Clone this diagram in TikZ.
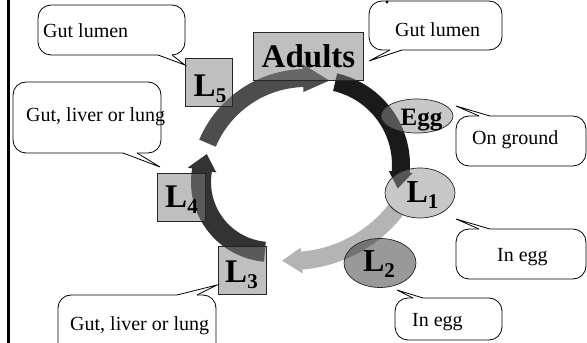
\documentclass[tikz,border=0pt]{standalone}
\usepackage{fontspec}
\setmainfont{Liberation Serif}
\usetikzlibrary{shapes.geometric}
\definecolor{boxfill}{gray}{0.5}
\definecolor{eggfill}{gray}{0.57}
\definecolor{ltwofill}{gray}{0.2}
\definecolor{arcA}{HTML}{4D4D4D}
\definecolor{arcB}{HTML}{1A1A1A}
\definecolor{arcC}{HTML}{B4B4B4}
\definecolor{arcD}{HTML}{333333}
% #1 cx, #2 cy, #3 r, #4 start angle, #5 head base angle, #6 tip angle, #7 half band, #8 half head, #9 colour
\newcommand{\blockarc}[9]{%
  \pgfmathsetmacro\bArO{#3+#7}\pgfmathsetmacro\bArI{#3-#7}%
  \pgfmathsetmacro\bAhO{#3+#8}\pgfmathsetmacro\bAhI{#3-#8}%
  \fill[#9,shift={(#1,#2)}] (#4:\bArO pt) arc[start angle=#4,end angle=#5,radius=\bArO pt]
    -- (#5:\bAhO pt) -- (#6:#3pt) -- (#5:\bAhI pt) -- (#5:\bArI pt)
    arc[start angle=#5,end angle=#4,radius=\bArI pt] -- cycle;}
% tail: #1 bx1, #2 bx2, #3 Ybase, #4 tip x, #5 tip Y, #6 inner Y
\newcommand{\calltail}[6]{%
  \fill[white] (#1,#6) -- (#1,#3) -- (#4,#5) -- (#2,#3) -- (#2,#6) -- cycle;
  \draw[line width=0.8pt] (#1,#3) -- (#4,#5) -- (#2,#3);}
\newcommand{\Lsub}[1]{L\raisebox{-6pt}{\fontsize{21}{21}\selectfont #1}}
\begin{document}
\begin{tikzpicture}[x=1pt,y=1pt,
  box/.style={rectangle,draw=black!85,line width=0.7pt,fill=boxfill,fill opacity=0.5,draw opacity=1,inner sep=0pt},
  oval/.style={ellipse,draw=black!85,line width=0.7pt,fill opacity=0.5,draw opacity=1,inner sep=0pt},
  lbl/.style={anchor=base,inner sep=0pt,font=\bfseries\fontsize{33}{33}\selectfont},
  bubble/.style={draw=black,line width=0.8pt,fill=white,rounded corners=13pt},
  btxt/.style={anchor=base west,inner sep=0pt,font=\fontsize{20}{20}\selectfont}]
\useasboundingbox (0,0) rectangle (587,343);
% left rule
\draw[line width=2.5pt] (8.5,0) -- (8.5,343);
% cycle arrows
\blockarc{306}{158}{107}{157}{91.6}{77.4}{9}{14}{arcA}
\blockarc{316}{178}{85}{77}{-4.7}{-16}{9}{12}{arcB}
\blockarc{291}{215}{133}{-38}{-85.4}{-93.8}{9}{13}{arcC}
\blockarc{271}{161}{70}{265}{170.2}{156.5}{10}{14.5}{arcD}
% stage nodes
\node[box,minimum width=110pt,minimum height=48pt] (adults) at (308,287) {};
\node[box,minimum width=47pt,minimum height=48pt] (l5) at (208.5,261) {};
\node[box,minimum width=48pt,minimum height=48pt] (l4) at (181,146) {};
\node[box,minimum width=48pt,minimum height=48pt] (l3) at (242,73) {};
\node[oval,fill=eggfill,minimum width=72pt,minimum height=34pt] (egg) at (417,227) {};
\node[oval,fill=eggfill,minimum width=70pt,minimum height=50pt] (l1) at (420,150) {};
\node[oval,fill=ltwofill,minimum width=72pt,minimum height=49pt] (l2) at (380,80) {};
% stage labels
\node[lbl] (adultsT) at (308.5,275) {Adults};
\node[lbl] (l5T) at (210,246) {\Lsub{5}};
\node[lbl] (l4T) at (181.5,135) {\Lsub{4}};
\node[lbl] (l3T) at (241.5,60) {\Lsub{3}};
\node[lbl,font=\bfseries\fontsize{25}{25}\selectfont] (eggT) at (421.5,217) {Egg};
\node[lbl,font=\bfseries\fontsize{32}{32}\selectfont] (l1T) at (422.5,140) {\Lsub{1}};
\node[lbl,font=\bfseries\fontsize{32}{32}\selectfont] (l2T) at (379,71) {\Lsub{2}};
% callouts
\draw[bubble] (38,288) rectangle (185,338);
\calltail{158}{172}{288}{185}{278}{289.5}
\node[btxt] (c1) at (43,305) {Gut lumen};
\draw[bubble] (13,190) rectangle (161,261);
\calltail{123}{137}{190}{160}{176}{191.5}
\node[btxt] (c2) at (26,221) {Gut, liver or lung};
\draw[bubble] (369,293) rectangle (502,342);
\calltail{390}{402}{293}{369}{282}{294.5}
\fill (387,341) circle[radius=1.6pt];
\node[btxt] (c3) at (395,306) {Gut lumen};
\draw[bubble] (456,177) rectangle (586,227);
\calltail{479}{490}{227}{456}{237}{225.5}
\node[btxt] (c4) at (472,198) {On ground};
\draw[bubble] (456,64) rectangle (586,114);
\calltail{479}{490}{114}{456}{124}{112.5}
\node[btxt] (c5) at (497,81) {In egg};
\draw[bubble] (395,3) rectangle (502,45);
\calltail{413}{423}{45}{397}{53}{43.5}
\node[btxt] (c6) at (412,16) {In egg};
\draw[bubble] (58,-22) rectangle (216,48);
\calltail{177}{197}{48}{217}{58}{46.5}
\node[btxt] (c7) at (70,12) {Gut, liver or lung};
\end{tikzpicture}
\end{document}
